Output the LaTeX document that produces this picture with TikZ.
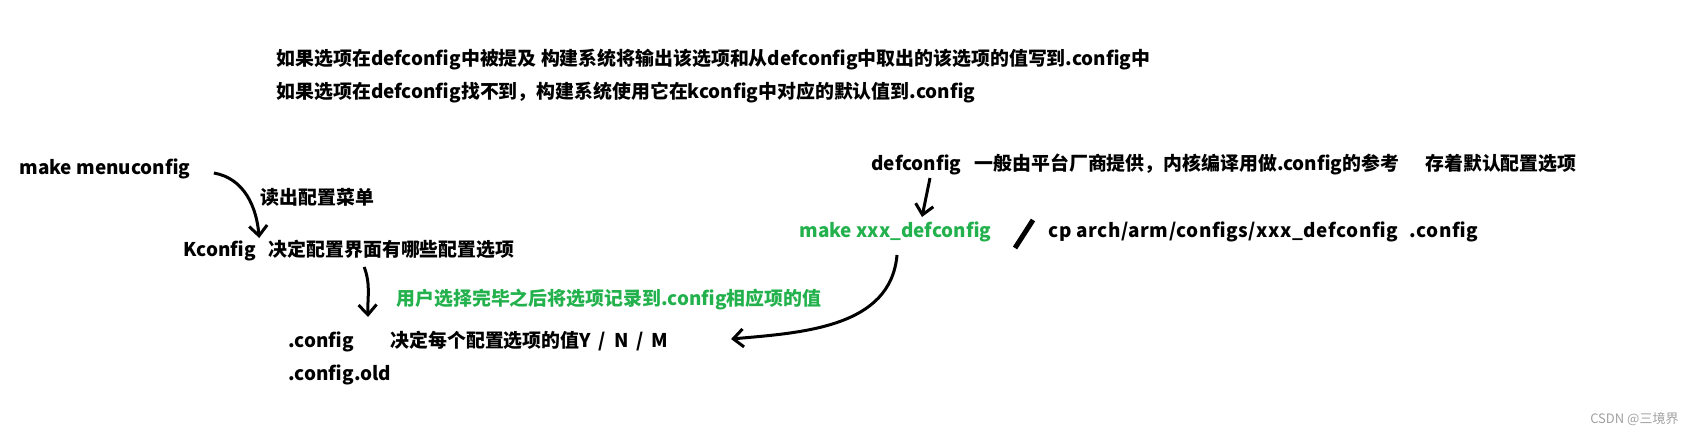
\documentclass[tikz,border=0pt]{standalone}
\usepackage{fontspec}
\setmainfont{Noto Sans CJK SC}
\usetikzlibrary{arrows.meta,positioning}

\definecolor{paintgreen}{RGB}{34,177,76}
\definecolor{markgray}{RGB}{160,160,160}

\begin{document}
\begin{tikzpicture}[x=1pt,y=1pt,->,>={Straight Barb[length=10pt,width=18pt]},line width=3pt,node distance=10pt,
    txt node/.style={anchor=base west,inner sep=0pt,font=\bfseries\fontsize{18.9}{22}\selectfont},
    green node/.style={txt node,text=paintgreen}]
    \useasboundingbox (0,0) rectangle (1686,-433);

    \node[txt node] (1) at (275,-66) {如果选项在defconfig中被提及 构建系统将输出该选项和从defconfig中取出的该选项的值写到.config中};
    \node[txt node] (2) at (275,-99) {如果选项在defconfig找不到，构建系统使用它在kconfig中对应的默认值到.config};

    \node[txt node] (3) at (18,-174) {make menuconfig};
    \node[txt node] (4) at (259,-204) {读出配置菜单};
    \node[txt node] (5) at (182,-256) {Kconfig};
    \node[txt node] (6) [base right=of 5] {决定配置界面有哪些配置选项};
    \node[green node] (7) at (395,-305) {用户选择完毕之后将选项记录到.config相应项的值};
    \node[txt node] (8) at (287,-347) {.config};
    \node[txt node] (9) at (389,-347) {决定每个配置选项的值Y\hspace{8pt}/\hspace{8pt}N\hspace{8pt}/\hspace{8pt}M};
    \node[txt node] (10) at (287,-380) {.config.old};

    \node[txt node] (11) at (870,-170) {defconfig};
    \node[txt node] (12) [base right=of 11] {一般由平台厂商提供，内核编译用做.config的参考};
    \node[txt node] (13) [base right=23pt of 12] {存着默认配置选项};
    \node[green node] (14) at (798,-237) {make xxx\_defconfig};
    \node[txt node] (15) at (1047,-237) {\addfontfeature{LetterSpace=3}cp arch/arm/configs/xxx\_defconfig\hspace{7pt} .config};

    \node[anchor=base east,inner sep=0pt,text=markgray,font=\fontsize{13}{15}\selectfont] (16) at (1680,-423) {CSDN @三境界};

    \draw ([xshift=22pt,yshift=1pt]3.base east) to[out=-10,in=95] ([xshift=2pt,yshift=18pt]5.base east);
    \draw ([xshift=97pt,yshift=-11pt]6.base west) to[out=-70,in=92] ([xshift=81pt,yshift=30pt]8.base west);
    \draw ([xshift=60pt,yshift=-8pt]11.base west) -- ([xshift=124pt,yshift=20pt]14.base west);
    \draw ([xshift=99pt,yshift=-18pt]14.base west) to[out=-95,in=5] ([xshift=61pt,yshift=8pt]9.base east);
    \draw[-,line width=5pt] ([xshift=-32pt,yshift=-11pt]15.base west) -- ([xshift=-14pt,yshift=17pt]15.base west);
\end{tikzpicture}
\end{document}
